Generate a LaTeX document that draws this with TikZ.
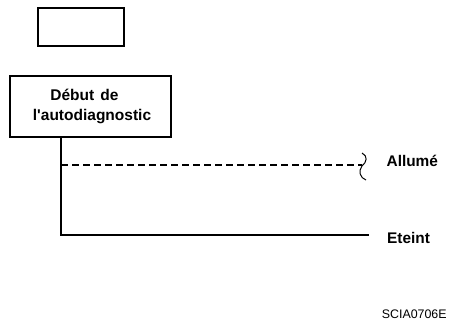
\documentclass[tikz,border=0pt]{standalone}
\usepackage{fontspec}
\setmainfont{Liberation Sans}
\usetikzlibrary{positioning}

\begin{document}
\begin{tikzpicture}[
    x=1pt, y=-1pt,
    style={line width=1.3pt},
    box/.style={draw, inner sep=0pt},
    lbl/.style={anchor=base west, inner sep=0pt, font=\fontsize{15.4}{18}\selectfont\bfseries}
]
\useasboundingbox (0,0) rectangle (449,322);
  % Boxes
  \node[box, minimum width=86, minimum height=38] (blank) at (81,27) {};
  \node[box, minimum width=161, minimum height=61,
        font=\fontsize{15.5}{20}\selectfont\bfseries] (start) at (90.5,106.5)
        {\raisebox{2pt}{\begin{tabular}{@{}l@{}}
          \hspace*{20.5pt}Début\hspace{6pt}de\\
          \hspace*{3pt}l\textquotesingle autodiagnostic
        \end{tabular}}};

  % Signal lines
  \coordinate (stem) at (61,137);
  \coordinate (split) at (61,165);
  \coordinate (corner) at (61,235);
  \coordinate (onEnd) at (362,165);
  \coordinate (offEnd) at (369,235);
\draw (stem) -- (corner) -- (offEnd);
\draw[dash pattern=on 7pt off 4pt] (split) -- (onEnd);
\draw[line width=1pt] (362,153) .. controls (368,156) and (367,162) .. (362,166)
    .. controls (358,171) and (360,178) .. (366,180);

  % Labels
\node[lbl] (on) at (386,166) {Allumé};
\node[lbl] (off) at (386.5,243) {Eteint};
\node[anchor=base east, inner sep=0pt, font=\fontsize{12.4}{15}\selectfont] (code) at (447.3,318.3) {SCIA0706E};
\end{tikzpicture}
\end{document}
